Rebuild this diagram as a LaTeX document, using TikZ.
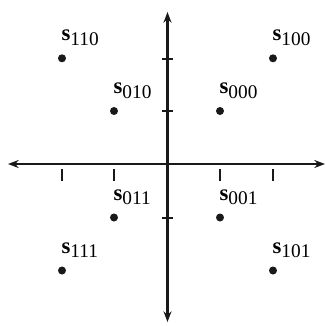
\documentclass[tikz,border=0pt]{standalone}
\usepackage{fontspec}
\setmainfont{Liberation Serif}
\usetikzlibrary{arrows.meta}
\tikzset{
  axis/.style={line width=2.1pt, draw=black!90, -{Stealth[length=8pt,width=6pt]}},
  tickmark/.style={line width=1.5pt, draw=black!90},
  dot/.style={circle, fill=black!90, inner sep=0pt, minimum size=6pt},
  lbl/.style={anchor=base west, inner sep=0pt},
}
\newcommand{\slab}[1]{{\fontsize{17}{17}\selectfont\bfseries s}\raisebox{-3.5pt}{\fontsize{14.5}{14.5}\selectfont #1}}
\begin{document}
\begin{tikzpicture}[x=0.75pt,y=-0.75pt]
\useasboundingbox (0,0) rectangle (326,326);
% axes
\coordinate (o) at (167.5,164);
\coordinate (xl) at (8,164);
\coordinate (xr) at (325,164);
\coordinate (yt) at (167.5,12);
\coordinate (yb) at (167.5,322);
\draw[axis] (o) -- (xl);
\draw[axis] (o) -- (xr);
\draw[axis] (o) -- (yt);
\draw[axis] (o) -- (yb);
% ticks on x axis (below)
\foreach \x [count=\i] in {62,114,220,273} {
  \coordinate (xt\i a) at (\x,169);
  \coordinate (xt\i b) at (\x,181);
  \draw[tickmark] (xt\i a) -- (xt\i b);
}
% ticks on y axis (crossing)
\foreach \y [count=\i] in {58.5,111,217.5} {
  \coordinate (yt\i a) at (162,\y);
  \coordinate (yt\i b) at (173,\y);
  \draw[tickmark] (yt\i a) -- (yt\i b);
}
% points
\node[dot] (p110) at (62,58.3) {};
\node[dot] (p100) at (273,58.3) {};
\node[dot] (p010) at (114,111) {};
\node[dot] (p000) at (220,111) {};
\node[dot] (p011) at (114,217.5) {};
\node[dot] (p001) at (220,217.5) {};
\node[dot] (p111) at (62,270.5) {};
\node[dot] (p101) at (273,270.5) {};
% labels
\foreach \n in {110,100,010,000,011,001,111,101} {
  \node[lbl] (l\n) at ([xshift=-0.5pt,yshift=13pt]p\n.center) {\slab{\n}};
}
\end{tikzpicture}
\end{document}
